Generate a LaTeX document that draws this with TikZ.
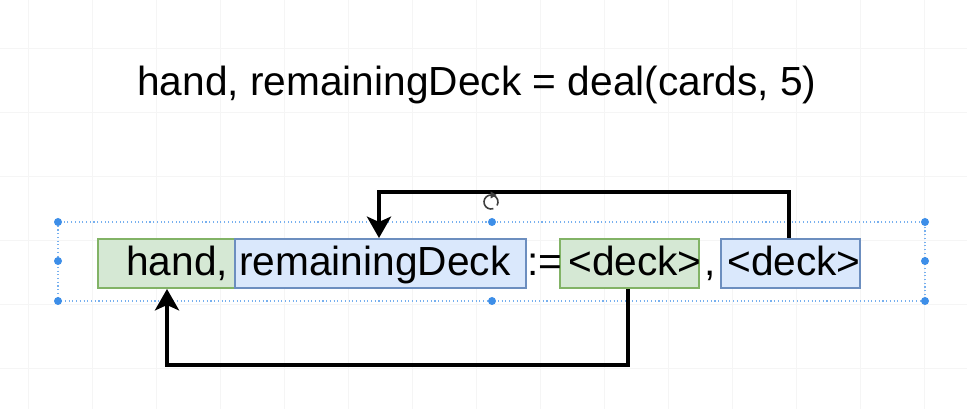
\documentclass[tikz,border=0pt]{standalone}
\usepackage{fontspec}
\setmainfont{Liberation Sans}
\usetikzlibrary{arrows.meta,calc}
\definecolor{gfill}{HTML}{D5E8D4}
\definecolor{gline}{HTML}{82B366}
\definecolor{bfill}{HTML}{DAE8FC}
\definecolor{bline}{HTML}{6C8EBF}
\definecolor{selblue}{HTML}{3D8EE8}
\begin{document}
\begin{tikzpicture}[x=0.75pt,y=-0.75pt,
  txt/.style={anchor=base west,inner sep=0pt,font=\fontsize{30.5}{36}\selectfont},
  cell/.style={anchor=north west,inner sep=0pt,minimum height=36.75pt,line width=1.5pt},
  gbox/.style={cell,draw=gline,fill=gfill},
  bbox/.style={cell,draw=bline,fill=bfill},
  link/.style={line width=3pt,-{Stealth[length=16pt,width=18pt,inset=4pt]}},
  handle/.style={circle,fill=selblue,inner sep=0pt,minimum size=6pt},
  sel/.style={draw=selblue!70,line width=0.8pt,dotted}
]
\useasboundingbox[fill=white] (0,0) rectangle (967,409);
% faint grid
\foreach \gx in {28,92,156,220,284,348,412,476,540,604,668,732,796,860,924}
  \draw[black!4,line width=0.5pt] (\gx,0) -- (\gx,409);
\foreach \gy in {48,112,176,240,304,368}
  \draw[black!4,line width=0.5pt] (0,\gy) -- (967,\gy);

\node[txt] (title) at (137,96) {hand, remainingDeck = deal(cards, 5)};

% selection frame
\draw[sel] (58,222) rectangle (925,301);

% boxes
\node[gbox,minimum width=102.75pt] (handbox) at (97,238) {};
\node[bbox,minimum width=218.25pt] (rembox) at (234,238) {};
\node[gbox,minimum width=104.25pt] (deckA) at (559,238) {};
\node[bbox,minimum width=104.25pt] (deckB) at (720,238) {};
\coordinate (handB) at ($(handbox.south west)+(70,0)$);
\coordinate (remT) at ($(rembox.north west)+(145,0)$);
\coordinate (deckAB) at ($(deckA.south west)+(69,0)$);
\coordinate (deckBT) at ($(deckB.north west)+(69,0)$);
\coordinate (upR) at ($(deckBT)+(0,-46)$);
\coordinate (upL) at (upR -| remT);
\coordinate (dnR) at ($(deckAB)+(0,76)$);
\coordinate (dnL) at (dnR -| handB);

% texts
\node[txt] (hand) at (126,276) {hand,};
\node[txt] (rem) at (239,276) {remainingDeck};
\node[txt] (assign) at (527,276) {:=};
\node[txt] (d1) at (568,276) {<deck>};
\node[txt] (comma) at (704,276) {,};
\node[txt] (d2) at (727,276) {<deck>};

% connectors
\draw[link] (deckBT) -- (upR) -- (upL) -- (remT);
\draw[link] (deckAB) -- (dnR) -- (dnL) -- (handB);

% handles
\foreach \hx/\hy in {58/222,492/222,925/222,58/261,925/261,58/301,492/301,925/301}
  \node[handle] at (\hx,\hy) {};
% rotate icon
\draw[black!75,line width=1.2pt] (491,202) ++(70:7) arc (70:390:7);
\draw[black!75,fill=black!75] (491,192) -- (496,195) -- (491,198) -- cycle;
\end{tikzpicture}
\end{document}
